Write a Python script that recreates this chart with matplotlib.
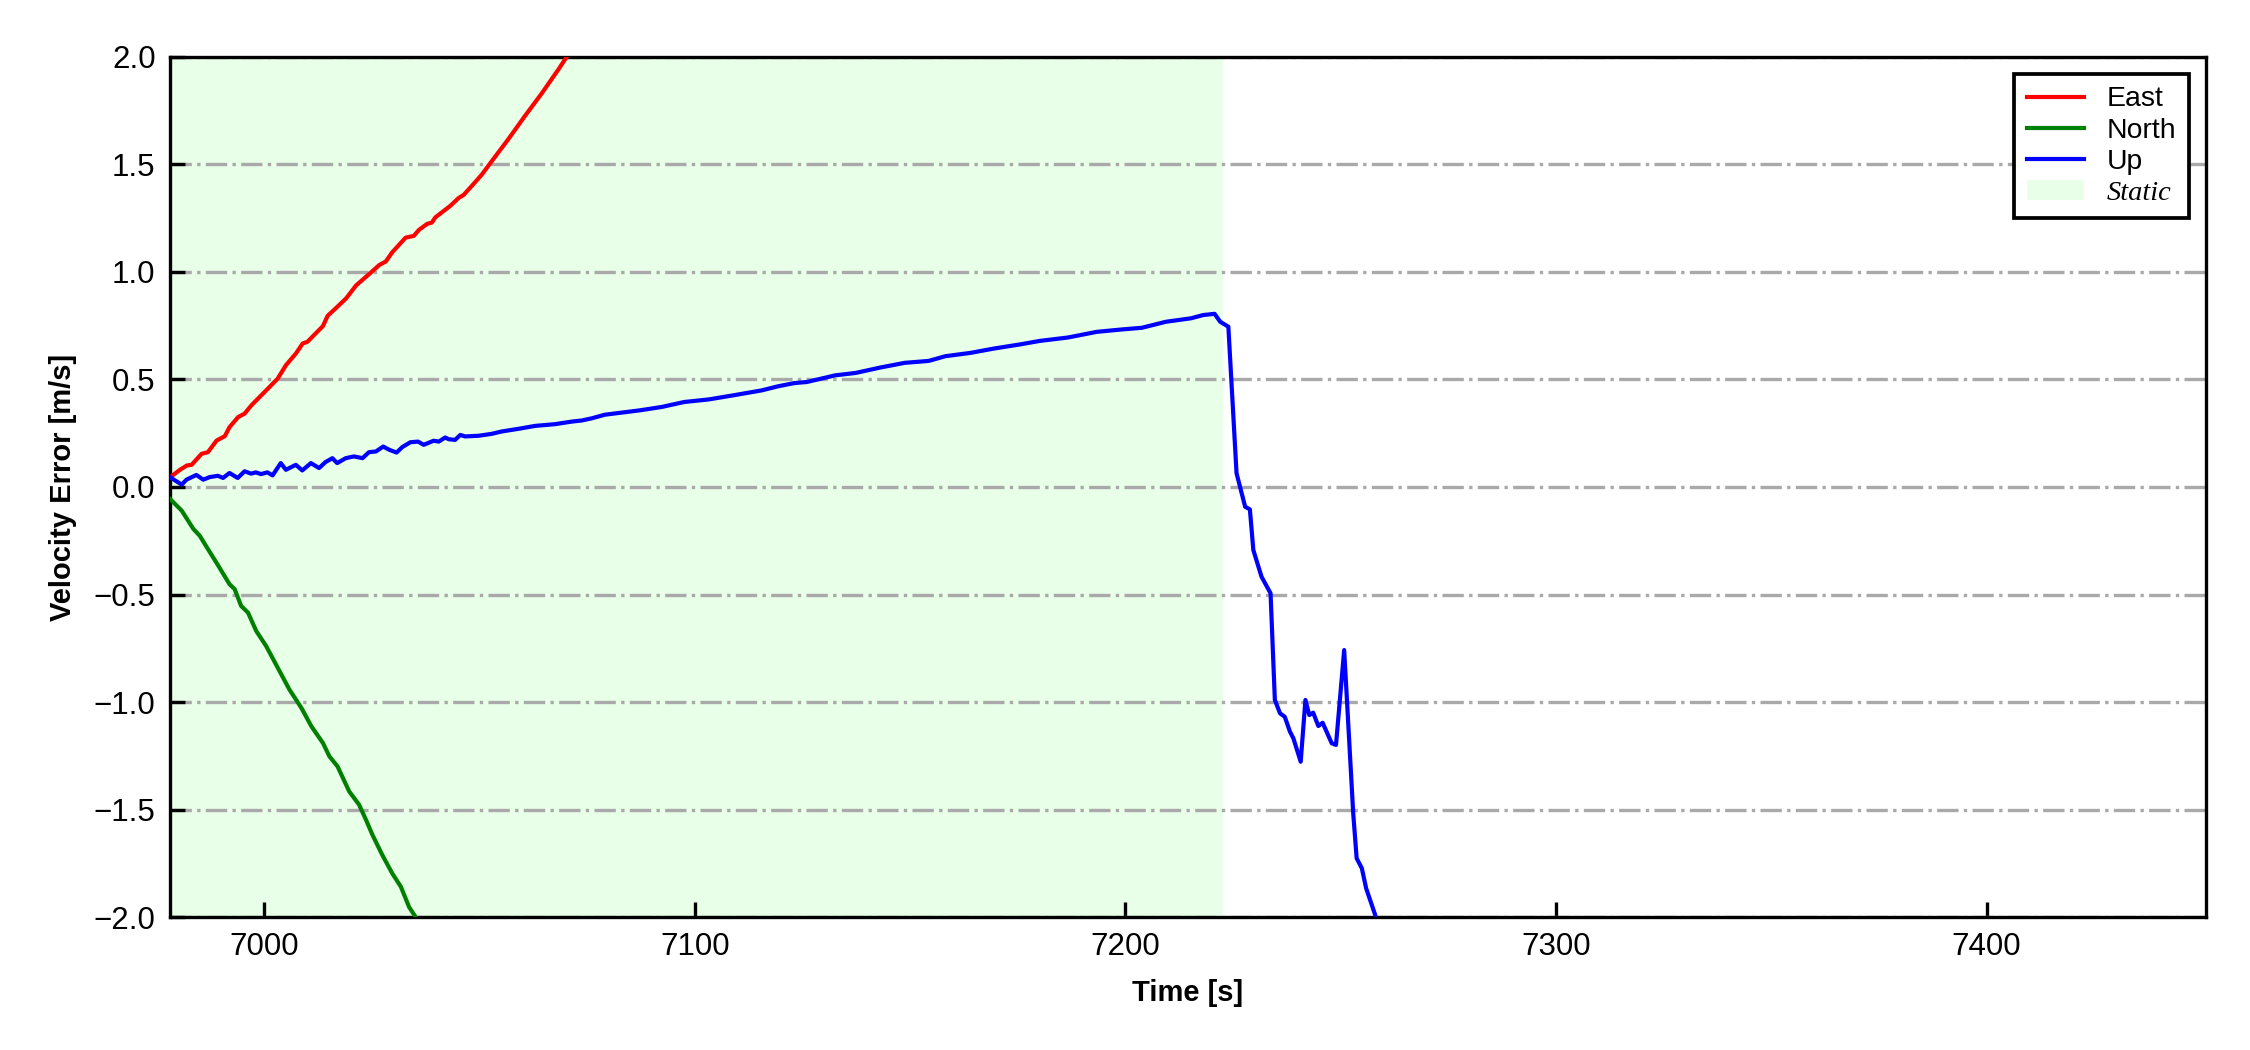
import matplotlib
matplotlib.use("Agg")
import matplotlib.pyplot as plt
import numpy as np

plt.rcParams['font.family'] = ['Liberation Sans', 'DejaVu Sans']

# ---------------- data ----------------
east_t = [6978.1, 6980.4, 6982.0, 6983.1, 6985.4, 6986.9, 6988.9, 6990.8, 6991.9, 6993.9,
          6995.4, 6997.0, 7001.2, 7003.1, 7005.0, 7007.3, 7008.9, 7010.0, 7013.6, 7014.7,
          7016.7, 7019.0, 7021.3, 7024.3, 7026.7, 7028.2, 7029.7, 7032.8, 7034.7, 7035.9,
          7037.8, 7038.9, 7039.7, 7043.2, 7045.1, 7046.3, 7048.2, 7050.5, 7052.8, 7056.6,
          7060.5, 7064.4, 7068.3, 7070.6, 7072.0]
east_v = [0.045, 0.080, 0.100, 0.103, 0.154, 0.162, 0.216, 0.236, 0.278, 0.325,
          0.341, 0.380, 0.465, 0.504, 0.566, 0.620, 0.667, 0.675, 0.748, 0.796,
          0.833, 0.877, 0.937, 0.989, 1.032, 1.048, 1.091, 1.159, 1.167, 1.195,
          1.223, 1.229, 1.253, 1.307, 1.343, 1.358, 1.400, 1.452, 1.514, 1.615,
          1.724, 1.829, 1.941, 2.011, 2.05]

north_t = [6978.1, 6980.8, 6983.5, 6985.0, 6986.9, 6989.3, 6991.9, 6993.1, 6994.6, 6996.2,
           6998.1, 7000.4, 7002.7, 7005.8, 7008.6, 7010.9, 7013.6, 7015.1, 7017.0, 7019.7,
           7022.0, 7023.6, 7025.1, 7027.4, 7029.7, 7031.7, 7033.6, 7035.1, 7036.5]
north_v = [-0.056, -0.110, -0.195, -0.227, -0.289, -0.366, -0.452, -0.475, -0.553, -0.584,
           -0.669, -0.739, -0.825, -0.941, -1.027, -1.112, -1.190, -1.252, -1.299, -1.415,
           -1.477, -1.547, -1.617, -1.711, -1.796, -1.858, -1.952, -1.998, -2.06]

up_t = [6978.1, 6980.8, 6981.9, 6984.2, 6985.8, 6987.3, 6989.2, 6990.4, 6991.9, 6993.8,
        6995.4, 6996.9, 6998.0, 6999.2, 7000.7, 7001.9, 7003.8, 7005.0, 7007.3, 7008.8,
        7010.8, 7012.7, 7014.2, 7015.8, 7016.9, 7018.9, 7020.8, 7022.8, 7024.3, 7025.9,
        7027.6, 7029.0, 7030.7, 7032.0, 7033.9, 7035.7, 7037.0, 7039.3, 7040.5, 7042.0,
        7042.8, 7044.3, 7045.5, 7046.6, 7049.7, 7052.8, 7055.1, 7058.9, 7062.9, 7067.5,
        7071.4, 7073.7, 7076.0, 7079.1, 7087.1, 7092.3, 7097.5, 7103.2, 7108.9, 7115.5,
        7119.3, 7123.1, 7126.0, 7132.6, 7137.3, 7143.0, 7148.7, 7154.3, 7158.2, 7163.9,
        7169.6, 7175.3, 7180.1, 7186.7, 7193.3, 7199.0, 7203.8, 7209.4, 7215.2, 7218.0,
        7220.7, 7222.0, 7223.9, 7225.8, 7227.8, 7228.9, 7229.7, 7231.6, 7233.7, 7234.7,
        7235.9, 7237.0, 7238.2, 7239.0, 7240.7, 7241.8, 7242.7, 7243.6, 7244.8, 7245.8,
        7247.9, 7248.9, 7250.8, 7252.9, 7253.7, 7254.9, 7255.9, 7258.0, 7259.0]
up_v = [0.045, 0.011, 0.034, 0.056, 0.034, 0.046, 0.052, 0.042, 0.065, 0.042,
        0.073, 0.062, 0.068, 0.060, 0.068, 0.054, 0.111, 0.080, 0.103, 0.077,
        0.111, 0.088, 0.116, 0.134, 0.111, 0.134, 0.142, 0.134, 0.162, 0.165,
        0.188, 0.173, 0.160, 0.185, 0.208, 0.211, 0.196, 0.215, 0.211, 0.230,
        0.222, 0.219, 0.242, 0.235, 0.238, 0.247, 0.258, 0.270, 0.284, 0.292,
        0.304, 0.309, 0.319, 0.336, 0.356, 0.372, 0.395, 0.407, 0.426, 0.449,
        0.468, 0.483, 0.488, 0.519, 0.530, 0.555, 0.577, 0.586, 0.608, 0.623,
        0.644, 0.662, 0.679, 0.695, 0.721, 0.732, 0.740, 0.768, 0.784, 0.799,
        0.805, 0.768, 0.745, 0.064, -0.092, -0.104, -0.293, -0.417, -0.494, -0.990,
        -1.052, -1.068, -1.137, -1.168, -1.277, -0.990, -1.060, -1.049, -1.111, -1.096,
        -1.191, -1.199, -0.758, -1.517, -1.726, -1.772, -1.865, -1.989, -2.1]

static_span = [6978.1, 7222.7]
x_limits = [6978.1, 7450.9]
y_limits = [-2.0, 2.0]
y_ticks = [-2.0, -1.5, -1.0, -0.5, 0.0, 0.5, 1.0, 1.5, 2.0]
x_ticks = [7000, 7100, 7200, 7300, 7400]

# ---------------- figure ----------------
fig = plt.figure(figsize=(7.5, 3.5), dpi=300)
ax = fig.add_axes([0.0756, 0.1264, 0.9047, 0.8196])

ax.axvspan(static_span[0], static_span[1], color='#00ff00', alpha=0.09, lw=0, label='Static', zorder=0)
ax.plot(east_t, east_v, color='red', lw=1.0, label='East', zorder=3)
ax.plot(north_t, north_v, color='green', lw=1.0, label='North', zorder=3)
ax.plot(up_t, up_v, color='blue', lw=1.0, label='Up', zorder=3)

ax.set_xlim(*x_limits)
ax.set_ylim(*y_limits)
ax.set_xticks(x_ticks)
ax.set_yticks(y_ticks)
ax.tick_params(direction='in', labelsize=7.5, length=3.5, width=0.8, top=False, right=False)
ax.yaxis.grid(True, linestyle='-.', color='#a9a9a9', lw=0.8)
ax.set_axisbelow(True)

ax.set_xlabel('Time [s]', fontsize=7, fontweight='bold')
ax.set_ylabel('Velocity Error [m/s]', fontsize=7, fontweight='bold')

handles, labels = ax.get_legend_handles_labels()
order = [labels.index(l) for l in ['East', 'North', 'Up', 'Static']]
leg = ax.legend([handles[i] for i in order], [labels[i] for i in order],
                loc='upper right', fontsize=6.8, fancybox=False, edgecolor='black',
                framealpha=1.0, handletextpad=0.8, labelspacing=0.18,
                borderaxespad=0.6, borderpad=0.45)
leg.get_frame().set_linewidth(0.9)
st = leg.get_texts()[3]
st.set_fontfamily(['Liberation Serif', 'DejaVu Serif'])
st.set_fontstyle('italic')

fig.savefig('out.png', dpi=300)
